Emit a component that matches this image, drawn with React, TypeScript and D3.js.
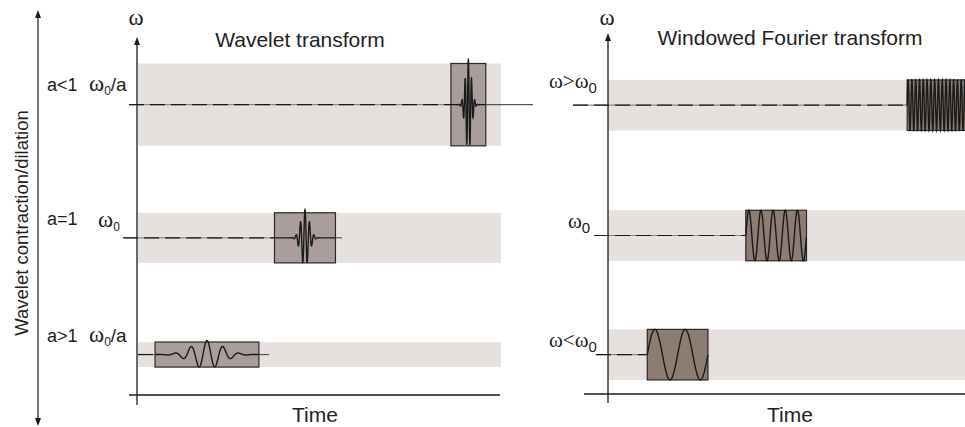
import React from 'react';
import * as d3 from 'd3';

// wavelet panel (time / frequency in arbitrary 0-100 units)
const scaleLabels = ['a<1', 'a=1', 'a>1'];
const waveletFreqLabels = [['ω', '0', '/a'], ['ω', '0', ''], ['ω', '0', '/a']];
const waveletTime = [91, 46, 19];
const waveletFreq = [81.1, 43.9, 11.3];
const waveletBoxWidth = [9.6, 16.8, 28.6];
const waveletBoxHeight = [23, 14, 7];
const waveletDilation = [0.2, 0.28, 1];
const waveletLineStart = [-2.5, -4.1, 0];
const waveletLineEnd = [108.8, 56.2, 36.1];

// windowed fourier panel
const fourierLabels = [['ω>ω', '0'], ['ω', '0'], ['ω<ω', '0']];
const fourierTime = [92.3, 47.1, 19.5];
const fourierFreq = [80, 43.9, 10.9];
const fourierBoxWidth = 17;
const fourierBoxHeight = 14;
const fourierCycles = [16, 5, 2];
const fourierLineStart = [-9.8, -3.9, -3.4];

const SANS = 'Liberation Sans, Arial, Helvetica, sans-serif';
const SERIF = 'Liberation Serif, Times New Roman, serif';
const BAND = '#e6e1df';
const INK = '#1a1a1a';

const W = 965, H = 427;

const arrow = (x: number, y: number, dir: 1 | -1) => {
  // dir -1 = pointing up
  const l = 8, w = 3;
  return `M${x},${y} L${x - w},${y - dir * l} L${x + w},${y - dir * l} Z`;
};

const App = () => {
  const xL = d3.scaleLinear().domain([0, 100]).range([138, 501]);
  const yL = d3.scaleLinear().domain([0, 100]).range([395, 37]);
  const xR = d3.scaleLinear().domain([0, 100]).range([608, 965]);
  const yR = d3.scaleLinear().domain([0, 100]).range([394, 33]);
  const line = d3.line<[number, number]>().x(d => d[0]).y(d => d[1]);

  const pxPerUnitY = (s: d3.ScaleLinear<number, number>) => Math.abs(s(1) - s(0));

  const morlet = (i: number) => {
    const cx = xL(waveletTime[i]);
    const cy = yL(waveletFreq[i]);
    const half = (waveletBoxWidth[i] * (xL(1) - xL(0))) / 2;
    const amp = (waveletBoxHeight[i] * pxPerUnitY(yL)) / 2 * 1.12;
    const a = waveletDilation[i];
    const pts: [number, number][] = [];
    for (let dx = -half; dx <= half; dx += 0.1) {
      const u = dx / a;
      const v = Math.cos((2 * Math.PI * u) / 16) * Math.exp(-(u * u) / (2 * 15 * 15));
      pts.push([cx + dx, cy - amp * v]);
    }
    return line(pts) || '';
  };

  const sine = (i: number) => {
    const x0 = xR(fourierTime[i] - fourierBoxWidth / 2);
    const x1 = xR(fourierTime[i] + fourierBoxWidth / 2);
    const cy = yR(fourierFreq[i]);
    const amp = (fourierBoxHeight * pxPerUnitY(yR)) / 2;
    const pts: [number, number][] = [];
    for (let x = x0; x <= x1; x += 0.1) {
      const p = (x - x0) / (x1 - x0);
      pts.push([x, cy - amp * Math.sin(2 * Math.PI * fourierCycles[i] * p)]);
    }
    return line(pts) || '';
  };

  return (
    <svg width={W} height={H} style={{position: 'absolute', left: 0, top: 0, background: '#fff'}}>
      {/* contraction / dilation arrow */}
      <line x1={38} x2={38} y1={16} y2={420} stroke={INK} strokeWidth={1.2} />
      <path d={arrow(38, 10, -1)} fill={INK} />
      <path d={arrow(38, 426, 1)} fill={INK} />
      <text transform="translate(28,223) rotate(-90)" textAnchor="middle" fontFamily={SANS} fontSize={18.5} fill="#222">
        Wavelet contraction/dilation
      </text>

      {/* ---------- wavelet panel ---------- */}
      <text x={300} y={47} textAnchor="middle" fontFamily={SANS} fontSize={21} fill="#222">Wavelet transform</text>
      {waveletTime.map((t, i) => {
        const cy = yL(waveletFreq[i]);
        const hh = (waveletBoxHeight[i] * pxPerUnitY(yL)) / 2;
        const bx0 = xL(t - waveletBoxWidth[i] / 2);
        const bx1 = xL(t + waveletBoxWidth[i] / 2);
        return (
          <g key={'w' + i}>
            <rect x={xL(0)} y={cy - hh} width={xL(100) - xL(0)} height={hh * 2} fill={BAND} />
            <line x1={xL(waveletLineStart[i])} x2={bx0} y1={cy} y2={cy} stroke="#8a8a8a" strokeWidth={1.2} />
            <line x1={xL(waveletLineStart[i])} x2={bx0} y1={cy} y2={cy} stroke={INK} strokeWidth={1.2} strokeDasharray="15 6" />
            <rect x={bx0} y={cy - hh} width={bx1 - bx0} height={hh * 2} fill="#a99e9b" stroke="#2a2a2a" strokeWidth={1.2} />
            <line x1={bx1} x2={xL(waveletLineEnd[i])} y1={cy} y2={cy} stroke="#555" strokeWidth={1.2} />
            <path d={morlet(i)} fill="none" stroke={INK} strokeWidth={1.4} />
          </g>
        );
      })}
      {/* axes */}
      <line x1={137} x2={137} y1={405} y2={44} stroke={INK} strokeWidth={1.3} />
      <path d={arrow(137, 37, -1)} fill={INK} />
      <line x1={129} x2={500} y1={395} y2={395} stroke={INK} strokeWidth={1.3} />
      <text x={136} y={25} textAnchor="middle" fontFamily={SERIF} fontSize={23} fill="#222">ω</text>
      <text x={315} y={422} textAnchor="middle" fontFamily={SANS} fontSize={21} fill="#222">Time</text>
      {scaleLabels.map((s, i) => {
        const by = [91, 225, 342][i];
        const lab = waveletFreqLabels[i];
        return (
          <g key={'l' + i}>
            <text x={47} y={by} fontFamily={SANS} fontSize={18} fill="#222">{s}</text>
            <text x={i === 1 ? 98 : 89} y={by + (i === 1 ? 2 : 0)} fontFamily={SERIF} fontSize={23} fill="#222">
              {lab[0]}
              <tspan fontFamily={SANS} fontSize={12} dy={4}>{lab[1]}</tspan>
              {lab[2] && <tspan fontFamily={SANS} fontSize={19} dy={-4}>{lab[2]}</tspan>}
            </text>
          </g>
        );
      })}

      {/* ---------- windowed fourier panel ---------- */}
      <text x={790} y={45} textAnchor="middle" fontFamily={SANS} fontSize={21} fill="#222">Windowed Fourier transform</text>
      {fourierTime.map((t, i) => {
        const cy = yR(fourierFreq[i]);
        const hh = (fourierBoxHeight * pxPerUnitY(yR)) / 2;
        const bx0 = xR(t - fourierBoxWidth / 2);
        const bx1 = xR(t + fourierBoxWidth / 2);
        return (
          <g key={'f' + i}>
            <rect x={xR(0)} y={cy - hh} width={xR(100) - xR(0)} height={hh * 2} fill={BAND} />
            <line x1={xR(fourierLineStart[i])} x2={bx0} y1={cy} y2={cy} stroke="#8a8a8a" strokeWidth={1.2} />
            <line x1={xR(fourierLineStart[i])} x2={bx0} y1={cy} y2={cy} stroke={INK} strokeWidth={1.2} strokeDasharray="15 6" />
            <rect x={bx0} y={cy - hh} width={bx1 - bx0} height={hh * 2} fill="#8c7c74" stroke="#2a2a2a" strokeWidth={1.2} />
            <path d={sine(i)} fill="none" stroke={INK} strokeWidth={1.4} />
          </g>
        );
      })}
      <line x1={608} x2={608} y1={403} y2={40} stroke={INK} strokeWidth={1.3} />
      <path d={arrow(608, 33, -1)} fill={INK} />
      <line x1={584} x2={965} y1={394} y2={394} stroke={INK} strokeWidth={1.3} />
      <text x={607} y={25} textAnchor="middle" fontFamily={SERIF} fontSize={23} fill="#222">ω</text>
      <text x={790} y={422} textAnchor="middle" fontFamily={SANS} fontSize={21} fill="#222">Time</text>
      {fourierLabels.map((lab, i) => {
        const pos = [[549, 88], [568, 228], [549, 347]][i];
        return (
          <text key={'fl' + i} x={pos[0]} y={pos[1]} fontFamily={SERIF} fontSize={21} fill="#222">
            {lab[0]}
            <tspan fontFamily={SANS} fontSize={15} dy={5}>{lab[1]}</tspan>
          </text>
        );
      })}
    </svg>
  );
};

export default App;
